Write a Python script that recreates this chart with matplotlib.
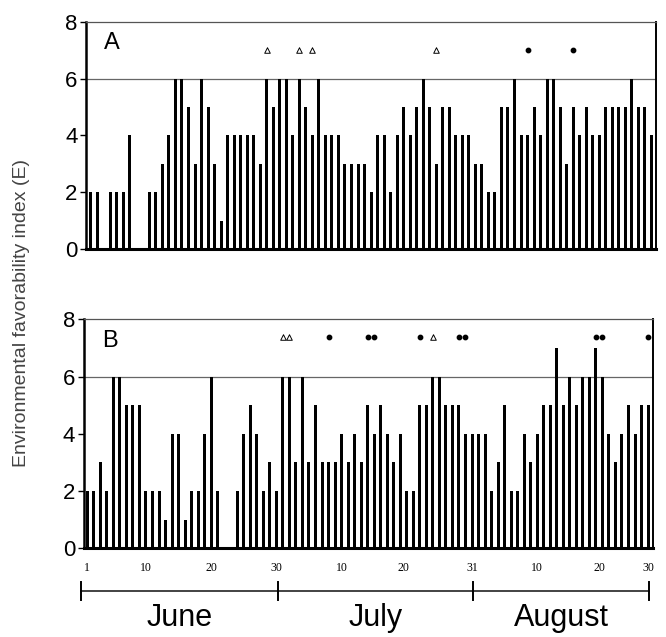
import matplotlib
matplotlib.use("Agg")
import matplotlib.pyplot as plt
import matplotlib.transforms as mtransforms
import numpy as np

# napi E értékek (0 = nincs adat)
days = np.arange(1, 88)
e_a = [2, 2, 0, 2, 2, 2, 4, 0, 0, 2, 2, 3, 4, 6, 6, 5, 3, 6, 5, 3, 1, 4, 4, 4, 4, 4, 3, 6, 5, 6,
       6, 4, 6, 5, 4, 6, 4, 4, 4, 3, 3, 3, 3, 2, 4, 4, 2, 4, 5, 4, 5, 6, 5, 3, 5, 5, 4, 4, 4, 3,
       3, 2, 2, 5, 5, 6, 4, 4, 5, 4, 6, 6, 5, 3, 5, 4, 5, 4, 4, 5, 5, 5, 5, 6, 5, 5, 4]
e_b = [2, 2, 3, 2, 6, 6, 5, 5, 5, 2, 2, 2, 1, 4, 4, 1, 2, 2, 4, 6, 2, 0, 0, 2, 4, 5, 4, 2, 3, 2,
       6, 6, 3, 6, 3, 5, 3, 3, 3, 4, 3, 4, 3, 5, 4, 5, 4, 3, 4, 2, 2, 5, 5, 6, 6, 5, 5, 5, 4, 4,
       4, 4, 2, 3, 5, 2, 2, 4, 3, 4, 5, 5, 7, 5, 6, 5, 6, 6, 7, 6, 4, 3, 4, 5, 4, 5, 5]

# jelölések (háromszög / pont) napjai
tri_a = [28, 33, 35, 54]
dot_a = [68, 75]
tri_b = [31, 32, 54]
dot_b = [38, 44, 45, 52, 58, 59, 79, 80, 87]

# x tengely feliratai
tick_pos = [1, 10, 20, 30, 40, 49.5, 60, 70, 79.5, 87]
tick_lab = ['1', '10', '20', '30', '10', '20', '31', '10', '20', '30']
months = ['June', 'July', 'August']
month_edges = [0, 30.3, 60.2, 87.2]

plt.rcParams['font.family'] = ['Liberation Sans', 'DejaVu Sans']

fig = plt.figure(figsize=(6.66, 6.37), dpi=100)
ax_a = fig.add_axes([0.1291, 0.6091, 0.8559, 0.3568])
ax_b = fig.add_axes([0.1254, 0.1392, 0.8555, 0.3595])


def panel(ax, vals, tri, dot, mark_y, letter, xlim):
    ax.bar(days, vals, width=0.46, color='black', linewidth=0)
    ax.axhline(6, color='#666666', lw=0.9, zorder=0)
    ax.scatter(tri, [mark_y] * len(tri), marker='^', s=16, facecolor='white',
               edgecolor='black', linewidths=0.7, zorder=3)
    ax.scatter(dot, [mark_y] * len(dot), marker='o', s=10, color='black', zorder=3)
    ax.set_xlim(*xlim)
    ax.set_ylim(0, 8)
    ax.set_yticks([0, 2, 4, 6, 8])
    ax.tick_params(axis='y', length=4, width=1, pad=2, labelsize=16)
    ax.spines['left'].set_linewidth(1.8)
    ax.spines['bottom'].set_linewidth(2.2)
    ax.spines['top'].set_linewidth(0.9)
    ax.spines['top'].set_color('#555555')
    ax.spines['right'].set_linewidth(1.4)
    ax.text(0.046, 0.905, letter, transform=ax.transAxes, fontsize=17,
            ha='center', va='center')


panel(ax_a, e_a, tri_a, dot_a, 7.0, 'A', (0.28, 87.7))
panel(ax_b, e_b, tri_b, dot_b, 7.4, 'B', (0.42, 87.8))

ax_a.set_xticks([])
ax_b.set_xticks(tick_pos)
ax_b.set_xticklabels(tick_lab, family='Liberation Serif', fontsize=8.5)
ax_b.tick_params(axis='x', length=0, pad=10)

# hónap-skála a tengely alatt
trans = mtransforms.blended_transform_factory(ax_b.transData, ax_b.transAxes)
ax_b.plot([month_edges[0], month_edges[-1]], [-0.186, -0.186], color='#222222',
          lw=1.2, transform=trans, clip_on=False)
for x in month_edges:
    ax_b.plot([x, x], [-0.146, -0.226], color='black', lw=1.4,
              transform=trans, clip_on=False)
for i, m in enumerate(months):
    ax_b.text((month_edges[i] + month_edges[i + 1]) / 2, -0.305, m, transform=trans,
              fontsize=22, ha='center', va='center')

fig.text(0.0326, 0.509, 'Environmental favorability index (E)', rotation=90,
         ha='center', va='center', fontsize=14, color='#444444')

plt.savefig('out.png', dpi=100)
